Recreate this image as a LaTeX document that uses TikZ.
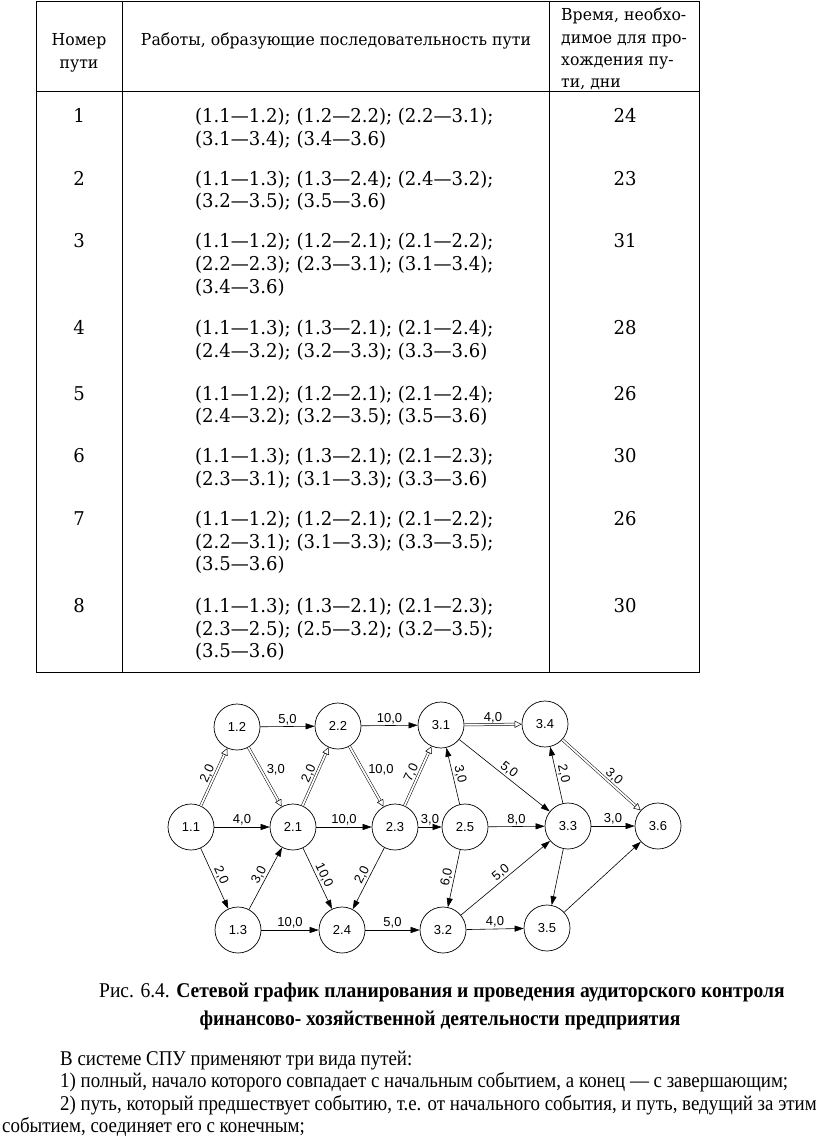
\documentclass[tikz,border=0pt]{standalone}
\usepackage{fontspec}
\setmainfont{Liberation Serif}
\newfontfamily\tabfont[FakeStretch=0.95]{DejaVu Serif}
\newfontfamily\txtfont[FakeStretch=0.9]{Liberation Serif}
\newfontfamily\capfont[FakeStretch=0.93]{Liberation Serif}
\newfontfamily\grfont{Liberation Sans}
\usetikzlibrary{arrows.meta}

\tikzset{
  head/.style={font=\tabfont\fontsize{16.5}{20}\selectfont, inner sep=0pt},
  tab/.style={font=\tabfont\fontsize{19}{23}\selectfont, inner sep=0pt},
  txt/.style={font=\txtfont\fontsize{21}{23}\selectfont, inner sep=0pt},
  capt/.style={font=\capfont\fontsize{21}{23}\selectfont, inner sep=0pt},
  ev/.style={draw, circle, line width=0.7pt, minimum size=46pt, inner sep=0pt, font=\grfont\fontsize{13}{13}\selectfont},
  job/.style={line width=0.6pt, -{Triangle[length=9pt,width=6pt]}},
  crit/.style={double, double distance=1.8pt, line width=0.5pt, -{Triangle[open,length=7pt,width=7pt]}},
  lbl/.style={font=\grfont\fontsize{13}{13}\selectfont, inner sep=1.5pt},
}

\begin{document}
\begin{tikzpicture}[x=1pt,y=-1pt]
			\useasboundingbox (0,0) rectangle (816,1140);
			%%%%% TABLE %%%%%
			\draw[line width=1pt] (36,2) rectangle (699,672);
			\draw[line width=0.8pt] (36,91) -- (699,91);
			\draw[line width=0.8pt] (122,2) -- (122,672);
			\draw[line width=0.8pt] (549,2) -- (549,672);
			
			\node[head, anchor=base] (h1a) at (79,46) {Номер};
			\node[head, anchor=base] (h1b) at (79,68) {пути};
			\node[head, anchor=base] (h2) at (336,46) {Работы, образующие последовательность пути};
			\node[head, anchor=base west] (h3a) at (561,21) {Время, необхо-};
			\node[head, anchor=base west] (h3b) at (561,44) {димое для про-};
			\node[head, anchor=base west] (h3c) at (561,66) {хождения пу-};
			\node[head, anchor=base west] (h3d) at (561,88) {ти, дни};
			
			\node[tab, anchor=base] (n1) at (79,122) {1};
			\node[tab, anchor=base] (t1) at (625,122) {24};
			\node[tab, anchor=base west] (w1a) at (195,122) {(1.1—1.2); (1.2—2.2); (2.2—3.1);};
			\node[tab, anchor=base west] (w1b) at (195,145) {(3.1—3.4); (3.4—3.6)};
			
			\node[tab, anchor=base] (n2) at (79,185) {2};
			\node[tab, anchor=base] (t2) at (625,185) {23};
			\node[tab, anchor=base west] (w2a) at (195,185) {(1.1—1.3); (1.3—2.4); (2.4—3.2);};
			\node[tab, anchor=base west] (w2b) at (195,207) {(3.2—3.5); (3.5—3.6)};
			
			\node[tab, anchor=base] (n3) at (79,247) {3};
			\node[tab, anchor=base] (t3) at (625,247) {31};
			\node[tab, anchor=base west] (w3a) at (195,247) {(1.1—1.2); (1.2—2.1); (2.1—2.2);};
			\node[tab, anchor=base west] (w3b) at (195,270) {(2.2—2.3); (2.3—3.1); (3.1—3.4);};
			\node[tab, anchor=base west] (w3c) at (195,293) {(3.4—3.6)};
			
			\node[tab, anchor=base] (n4) at (79,334) {4};
			\node[tab, anchor=base] (t4) at (625,334) {28};
			\node[tab, anchor=base west] (w4a) at (195,334) {(1.1—1.3); (1.3—2.1); (2.1—2.4);};
			\node[tab, anchor=base west] (w4b) at (195,357) {(2.4—3.2); (3.2—3.3); (3.3—3.6)};
			
			\node[tab, anchor=base] (n5) at (79,400) {5};
			\node[tab, anchor=base] (t5) at (625,400) {26};
			\node[tab, anchor=base west] (w5a) at (195,400) {(1.1—1.2); (1.2—2.1); (2.1—2.4);};
			\node[tab, anchor=base west] (w5b) at (195,422) {(2.4—3.2); (3.2—3.5); (3.5—3.6)};
			
			\node[tab, anchor=base] (n6) at (79,462) {6};
			\node[tab, anchor=base] (t6) at (625,462) {30};
			\node[tab, anchor=base west] (w6a) at (195,462) {(1.1—1.3); (1.3—2.1); (2.1—2.3);};
			\node[tab, anchor=base west] (w6b) at (195,485) {(2.3—3.1); (3.1—3.3); (3.3—3.6)};
			
			\node[tab, anchor=base] (n7) at (79,525) {7};
			\node[tab, anchor=base] (t7) at (625,525) {26};
			\node[tab, anchor=base west] (w7a) at (195,525) {(1.1—1.2); (1.2—2.1); (2.1—2.2);};
			\node[tab, anchor=base west] (w7b) at (195,548) {(2.2—3.1); (3.1—3.3); (3.3—3.5);};
			\node[tab, anchor=base west] (w7c) at (195,570) {(3.5—3.6)};
			
			\node[tab, anchor=base] (n8) at (79,612) {8};
			\node[tab, anchor=base] (t8) at (625,612) {30};
			\node[tab, anchor=base west] (w8a) at (195,612) {(1.1—1.3); (1.3—2.1); (2.1—2.3);};
			\node[tab, anchor=base west] (w8b) at (195,635) {(2.3—2.5); (2.5—3.2); (3.2—3.5);};
			\node[tab, anchor=base west] (w8c) at (195,657) {(3.5—3.6)};
			
			%%%%% NETWORK %%%%%
			\node[ev] (e11) at (191,827) {1.1};
			\node[ev] (e12) at (237,727) {1.2};
			\node[ev] (e13) at (238,930) {1.3};
			\node[ev] (e21) at (293,827) {2.1};
			\node[ev] (e22) at (338,726) {2.2};
			\node[ev] (e23) at (395,827) {2.3};
			\node[ev] (e24) at (342,930) {2.4};
			\node[ev] (e25) at (465,827) {2.5};
			\node[ev] (e31) at (441,725) {3.1};
			\node[ev] (e32) at (443,930) {3.2};
			\node[ev] (e33) at (568,826) {3.3};
			\node[ev] (e34) at (545,724) {3.4};
			\node[ev] (e35) at (547,928) {3.5};
			\node[ev] (e36) at (658,826) {3.6};
			
			\draw[crit] (e11) -- node[lbl, sloped, above] {2,0} (e12);
			\draw[crit] (e12) -- node[lbl, anchor=south west] {3,0} (e21);
			\draw[crit] (e21) -- node[lbl, sloped, above] {2,0} (e22);
			\draw[crit] (e22) -- node[lbl, anchor=south west] {10,0} (e23);
			\draw[crit] (e23) -- node[lbl, sloped, above] {7,0} (e31);
			\draw[crit] (e31) -- node[lbl, above] {4,0} (e34);
			\draw[crit] (e34) -- node[lbl, sloped, above, pos=0.6] {3,0} (e36);
			
			\draw[job] (e12) -- node[lbl, above] {5,0} (e22);
			\draw[job] (e22) -- node[lbl, above] {10,0} (e31);
			\draw[job] (e11) -- node[lbl, above] {4,0} (e21);
			\draw[job] (e21) -- node[lbl, above] {10,0} (e23);
			\draw[job] (e23) -- node[lbl, above] {3,0} (e25);
			\draw[job] (e25) -- node[lbl, above] {8,0} (e33);
			\draw[job] (e33) -- node[lbl, above] {3,0} (e36);
			\draw[job] (e25) -- node[lbl, sloped, above] {3,0} (e31);
			\draw[job] (e31) -- node[lbl, sloped, above] {5,0} (e33);
			\draw[job] (e33) -- node[lbl, sloped, above] {2,0} (e34);
			\draw[job] (e11) -- node[lbl, sloped, above] {2,0} (e13);
			\draw[job] (e13) -- node[lbl, sloped, above] {3,0} (e21);
			\draw[job] (e21) -- node[lbl, sloped, above] {10,0} (e24);
			\draw[job] (e23) -- node[lbl, sloped, above] {2,0} (e24);
			\draw[job] (e25) -- node[lbl, sloped, above] {6,0} (e32);
			\draw[job] (e32) -- node[lbl, sloped, above] {5,0} (e33);
			\draw[job] (e13) -- node[lbl, above] {10,0} (e24);
			\draw[job] (e24) -- node[lbl, above] {5,0} (e32);
			\draw[job] (e32) -- node[lbl, above] {4,0} (e35);
			\draw[job] (e33) -- (e35);
			\draw[job] (e35) -- (e36);
			
			%%%%% CAPTION AND TEXT %%%%%
			\node[capt, anchor=base] (cap1) at (442,997) {Рис. 6.4. \textbf{Сетевой график планирования и проведения аудиторского контроля}};
			\node[capt, anchor=base] (cap2) at (440,1025) {\textbf{финансово- хозяйственной деятельности предприятия}};
			
			\node[txt, anchor=base west] (par1) at (60,1065) {В системе СПУ применяют три вида путей:};
			\node[txt, anchor=base west] (par2) at (60,1087) {1) полный, начало которого совпадает с начальным событием, а конец — с завершающим;};
			\node[txt, anchor=base west] (par3) at (60,1110) {2) путь, который предшествует событию, т.е. от начального события, и путь, ведущий за этим};
			\node[txt, anchor=base west] (par4) at (2,1132) {событием, соединяет его с конечным;};
\end{tikzpicture}
\end{document}
